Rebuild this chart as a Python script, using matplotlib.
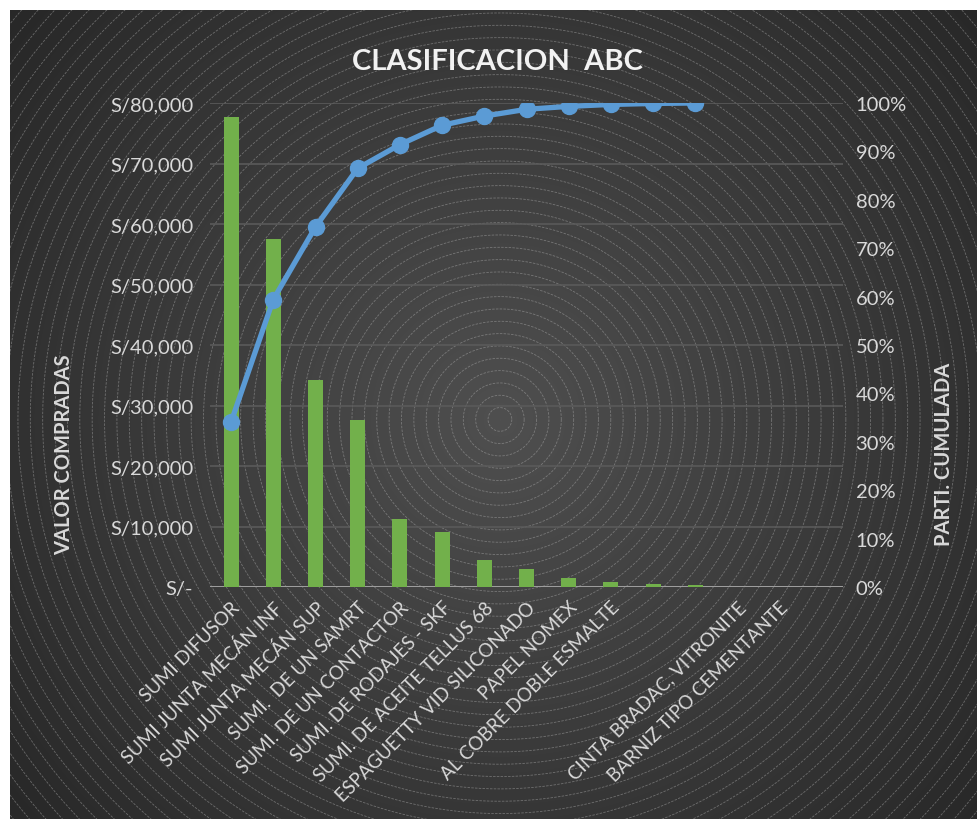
import numpy as np
import matplotlib
matplotlib.use("Agg")
import matplotlib.pyplot as plt
from matplotlib.ticker import FuncFormatter

plt.rcParams['font.family'] = ['Lato', 'DejaVu Sans']

categorias = ["SUMI DIFUSOR", "SUMI JUNTA MECÁN INF", "SUMI JUNTA MECÁN SUP",
              "SUMI.  DE UN SAMRT", "SUMI. DE UN CONTACTOR", "SUMI. DE RODAJES - SKF",
              "SUMI. DE ACEITE TELLUS 68", "ESPAGUETTY VID SILICONADO", "PAPEL NOMEX",
              "AL COBRE DOBLE ESMALTE", "", "", "CINTA BRADAC, VITRONITE",
              "BARNIZ TIPO CEMENTANTE", ""]
valor = [77700, 57500, 34200, 27600, 11200, 9100, 4500, 3000, 1500, 800, 500, 300]
cumulada = [34.1, 59.4, 74.4, 86.5, 91.4, 95.4, 97.3, 98.7, 99.3, 99.7, 99.9, 100.0]

W, H = 977, 820
fig = plt.figure(figsize=(W / 100, H / 100), dpi=100)
fig.patch.set_facecolor('white')

# fondo con degradado radial y circulos concentricos
bg = fig.add_axes([10 / W, 0, (W - 10) / W, (H - 11) / H])
bg.axis('off')
cx, cy = 495, 415
yy, xx = np.mgrid[0:H, 0:W]
r = np.hypot(xx - cx, yy - cy)
g = np.clip(r / 620, 0, 1)
shade = 0.31 - 0.15 * g
img = np.dstack([shade, shade, shade])
bg.imshow(img, extent=(0, W, H, 0), aspect='auto', zorder=0)
t = np.linspace(0, 2 * np.pi, 900)
for rad in np.arange(12, 760, 12.5):
    bg.plot(cx + rad * np.cos(t), cy + rad * np.sin(t), color='#a8a8a8',
            lw=0.6, alpha=0.5, ls=(0, (3, 1.5)), zorder=1)
bg.set_xlim(0, W)
bg.set_ylim(H, 0)

ax = fig.add_axes([210 / W, 1 - 588 / H, 633 / W, 484 / H])
ax.patch.set_alpha(0)
n = len(categorias)
x = np.arange(n)
ax.set_xlim(-0.5, n - 0.5)
ax.set_ylim(0, 80000)
ax.set_yticks(np.arange(0, 80001, 10000))
ax.yaxis.set_major_formatter(FuncFormatter(lambda v, p: "S/-" if v == 0 else f"S/{int(v):,}"))
ax.grid(axis='y', color='#5a5a5a', lw=1.2)
ax.set_axisbelow(True)
for s in ax.spines.values():
    s.set_visible(False)
ax.axhline(0, color='#a6a6a6', lw=2, zorder=2)

ax.bar(x[:len(valor)], valor, width=0.36, color='#72b04b', zorder=3)
ax.set_xticks(x)
ax.set_xticklabels(categorias, rotation=45, ha='right', va='top',
                   rotation_mode='anchor', fontsize=13.5, color='#d9d9d9')
ax.tick_params(axis='x', length=0, pad=8)
ax.tick_params(axis='y', length=0, pad=12, labelsize=14.5, labelcolor='#d9d9d9')
ax.set_ylabel("VALOR COMPRADAS", fontsize=14.5, fontweight='bold', color='#d9d9d9')
ax.yaxis.set_label_coords(-0.215, 0.275)

ax2 = ax.twinx()
ax2.set_ylim(0, 100)
ax2.set_yticks(np.arange(0, 101, 10))
ax2.yaxis.set_major_formatter(FuncFormatter(lambda v, p: f"{int(v)}%"))
for s in ax2.spines.values():
    s.set_visible(False)
ax2.tick_params(axis='y', length=0, pad=9, labelsize=14.5, labelcolor='#d9d9d9')
ax2.plot(x[:len(cumulada)], cumulada, color='#5b9bd5', lw=3.8, marker='o',
         markersize=11.5, zorder=4)
ax2.set_ylabel("PARTI. CUMULADA", fontsize=14.5, fontweight='bold', color='#d9d9d9')
ax2.yaxis.set_label_coords(1.144, 0.277)

fig.text(497 / W, 1 - 62 / H, "CLASIFICACION  ABC", ha='center', va='center',
         fontsize=21, fontweight='bold', color='#f2f2f2')

fig.savefig("out.png", dpi=100, facecolor=fig.get_facecolor())
